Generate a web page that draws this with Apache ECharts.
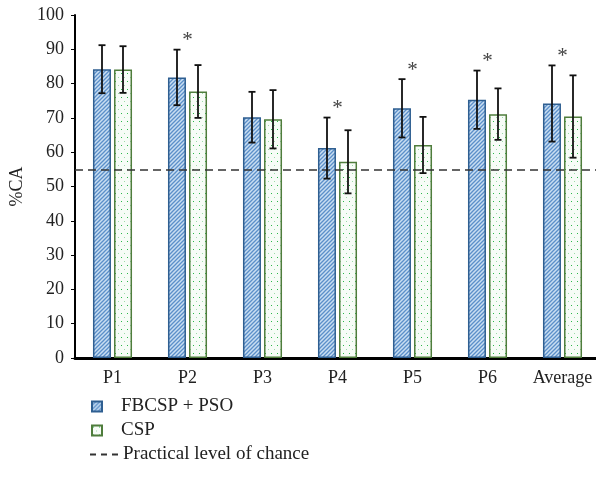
<!DOCTYPE html>
<html>
<head>
<meta charset="utf-8">
<script src="https://cdn.jsdelivr.net/npm/echarts@6/dist/echarts.min.js"></script>
<style>html,body{margin:0;padding:0;background:#fff}#c{width:596px;height:483px}</style>
</head>
<body>
<div id="c"></div>
<script>
var categories = ['P1', 'P2', 'P3', 'P4', 'P5', 'P6', 'Average'];
var fbcspMean = [84.2, 81.8, 70.2, 61.2, 72.8, 75.3, 74.2];
var fbcspErr  = [7.0, 8.1, 7.4, 8.9, 8.5, 8.5, 11.1];
var cspMean   = [84.1, 77.7, 69.6, 57.2, 62.1, 71.1, 70.4];
var cspErr    = [6.8, 7.7, 8.5, 9.2, 8.2, 7.5, 12.0];
var chanceLevel = 55;
var significant = [1, 3, 4, 5, 6];
var yTicks = { min: 0, max: 100, interval: 10 };
var FONT = '"Liberation Serif", "DejaVu Serif", serif';

function hatchPattern() {
  var c = document.createElement('canvas');
  c.width = 4; c.height = 4;
  var g = c.getContext('2d');
  g.fillStyle = '#c9def2';
  g.fillRect(0, 0, 4, 4);
  g.strokeStyle = '#5b8fc9';
  g.lineWidth = 1.3;
  g.beginPath();
  g.moveTo(-1, 5); g.lineTo(5, -1);
  g.moveTo(-1, 1); g.lineTo(1, -1);
  g.moveTo(3, 5); g.lineTo(5, 3);
  g.stroke();
  return c;
}
function dotPattern() {
  var c = document.createElement('canvas');
  c.width = 6; c.height = 8;
  var g = c.getContext('2d');
  g.fillStyle = '#f7fcf7';
  g.fillRect(0, 0, 6, 8);
  g.fillStyle = '#2cb84a';
  g.fillRect(1, 1, 1, 1);
  g.fillStyle = '#9bdca8';
  g.fillRect(4, 5, 1, 1);
  return c;
}
var hatch = { image: hatchPattern(), repeat: 'repeat' };
var dots = { image: dotPattern(), repeat: 'repeat' };

var BAR_W = 18, HALF_OFF = 10.5;

function errData(mean, err) {
  return mean.map(function (m, i) { return [i, m - err[i], m + err[i]]; });
}
function errRender(offset, width) {
  return function (params, api) {
    var i = api.value(0);
    var lo = api.coord([i, api.value(1)]);
    var hi = api.coord([i, api.value(2)]);
    var x = lo[0] + offset;
    var cap = 3.5;
    var style = { stroke: '#111', lineWidth: width };
    return {
      type: 'group',
      children: [
        { type: 'line', shape: { x1: x, y1: lo[1], x2: x, y2: hi[1] }, style: style },
        { type: 'line', shape: { x1: x - cap, y1: lo[1], x2: x + cap, y2: lo[1] }, style: style },
        { type: 'line', shape: { x1: x - cap, y1: hi[1], x2: x + cap, y2: hi[1] }, style: style }
      ]
    };
  };
}
var starData = significant.map(function (i) {
  return [i, Math.max(fbcspMean[i] + fbcspErr[i], cspMean[i] + cspErr[i])];
});

var chart = echarts.init(document.getElementById('c'), null, { renderer: 'canvas' });
chart.setOption({
  animation: false,
  backgroundColor: '#fff',
  textStyle: { fontFamily: FONT },
  grid: { left: 75, top: 15, width: 525, bottom: 125, containLabel: false, outerBoundsMode: 'none' },
  legend: [
    {
      orient: 'vertical', left: 86, top: 392, itemWidth: 10, itemHeight: 10, itemGap: 5,
      icon: 'rect',
      data: ['FBCSP + PSO', 'CSP'],
      textStyle: { fontFamily: FONT, fontSize: 19, color: '#222', padding: [0, 0, 0, 14] }
    },
    {
      orient: 'vertical', left: 85, top: 440, itemWidth: 28, itemHeight: 2,
      data: [{ name: 'Practical level of chance', icon: 'path://M0,0H6V2H0Z M11,0H17V2H11Z M22,0H28V2H22Z' }],
      textStyle: { fontFamily: FONT, fontSize: 19, color: '#222', padding: [0, 0, 0, 0] }
    }
  ],
  xAxis: {
    type: 'category', data: categories,
    axisLine: { lineStyle: { color: '#000', width: 3 } },
    axisTick: { show: false },
    axisLabel: { fontFamily: FONT, fontSize: 18, color: '#222', margin: 11, interval: 0 }
  },
  yAxis: {
    type: 'value', min: yTicks.min, max: yTicks.max, interval: yTicks.interval,
    name: '%CA', nameLocation: 'middle', nameGap: 47, nameRotate: 90,
    nameTextStyle: { fontFamily: FONT, fontSize: 18, color: '#222' },
    axisLine: { show: true, lineStyle: { color: '#000', width: 2 } },
    axisTick: { show: true, length: 4, lineStyle: { color: '#000', width: 1 } },
    axisLabel: { fontFamily: FONT, fontSize: 18, color: '#222', margin: 11 },
    splitLine: { show: false }
  },
  series: [
    {
      name: 'FBCSP + PSO', type: 'bar', data: fbcspMean, barWidth: BAR_W, barGap: '17%',
      itemStyle: { color: hatch, borderColor: '#2f5f91', borderWidth: 1.5 },
      markLine: {
        silent: true, symbol: 'none', label: { show: false },
        lineStyle: { color: '#333', type: [8, 5], width: 1.5 },
        data: [{ yAxis: chanceLevel }]
      }
    },
    {
      name: 'CSP', type: 'bar', data: cspMean, barWidth: BAR_W,
      itemStyle: { color: dots, borderColor: '#4f7d3c', borderWidth: 1.5 }
    },
    {
      name: 'Practical level of chance', type: 'line', data: [],
      symbol: 'none', lineStyle: { color: '#333', type: [6, 5], width: 1.5 },
      itemStyle: { color: '#333' }
    },
    {
      type: 'custom', data: errData(fbcspMean, fbcspErr), renderItem: errRender(-HALF_OFF, 1.8),
      encode: { x: 0, y: [1, 2] }, z: 5
    },
    {
      type: 'custom', data: errData(cspMean, cspErr), renderItem: errRender(HALF_OFF, 1.8),
      encode: { x: 0, y: [1, 2] }, z: 5
    },
    {
      type: 'custom', data: starData, encode: { x: 0, y: 1 }, z: 6,
      renderItem: function (params, api) {
        var p = api.coord([api.value(0), api.value(1)]);
        return {
          type: 'text',
          style: { text: '*', x: p[0], y: p[1] - 9, align: 'center', verticalAlign: 'middle',
                   fontFamily: FONT, fontSize: 21, fill: '#444' }
        };
      }
    }
  ]
});
</script>
</body>
</html>
